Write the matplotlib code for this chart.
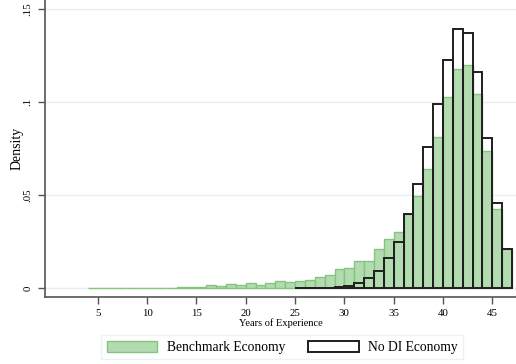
import matplotlib.pyplot as plt
import numpy as np

plt.rcParams['font.family'] = ['Liberation Serif', 'DejaVu Serif']

# histogram bins: one year wide, left edges
bench_left = np.arange(4, 47)
bench_dens = [0.0003, 0.0003, 0.0003, 0.0003, 0.0003, 0.0003, 0.0003, 0.0003, 0.0003,
              0.0005, 0.0006, 0.0006,
              0.0016, 0.0013, 0.0021, 0.0014, 0.0025, 0.0018, 0.0025, 0.0036, 0.0034,
              0.0039, 0.0043, 0.0061, 0.0070, 0.0104, 0.0110, 0.0145, 0.0145, 0.0208,
              0.0263, 0.0300, 0.0398, 0.0495, 0.0638, 0.0810, 0.1029, 0.1176, 0.1197,
              0.1041, 0.0737, 0.0425, 0.0210]

nodi_left = np.arange(25, 47)
nodi_dens = [0.0002, 0.0002, 0.0002, 0.0002, 0.0004, 0.0012, 0.0025, 0.0055, 0.0091,
             0.0160, 0.0246, 0.0396, 0.0559, 0.0758, 0.0988, 0.1226, 0.1390, 0.1373,
             0.1163, 0.0805, 0.0455, 0.0210]

fig = plt.figure(figsize=(5.16, 3.64), dpi=100)
ax = fig.add_axes([45/516, 1 - 297/364, 1 - 45/516, 297/364])

ax.bar(bench_left, bench_dens, width=1, align='edge', color='#b3dbb0',
       edgecolor='#84c47f', linewidth=1.0, label='Benchmark Economy', zorder=2)
ax.bar(nodi_left, nodi_dens, width=1, align='edge', fill=False,
       edgecolor='#1e1e1e', linewidth=1.4, label='No DI Economy', zorder=3)

ax.set_xlim(-0.35, 47.4)
ax.set_ylim(-0.0048, 0.1548)
ax.set_xticks([5, 10, 15, 20, 25, 30, 35, 40, 45])
ax.set_yticks([0, 0.05, 0.1, 0.15])
ax.set_yticklabels(['0', '.05', '.1', '.15'], rotation=90, va='center')
ax.tick_params(labelsize=7.8, length=5, color='#555555', width=1)
ax.tick_params(axis='y', pad=4)
ax.yaxis.grid(True, color='#e6eff1', linewidth=1, zorder=0)
ax.set_axisbelow(True)

for s in ['top', 'right']:
    ax.spines[s].set_visible(False)
for s in ['left', 'bottom']:
    ax.spines[s].set_color('#555555')
    ax.spines[s].set_linewidth(1.2)

ax.set_ylabel('Density', fontsize=10, labelpad=0)
ax.set_xlabel('Years of Experience', fontsize=7.5, labelpad=0)

fig.legend(loc='lower center', bbox_to_anchor=(0.547, -0.006), ncol=2, fontsize=9.8,
           frameon=True, fancybox=False, edgecolor='#e6eff1', handlelength=3.7,
           handleheight=0.9, handletextpad=0.7, columnspacing=1.7, borderpad=0.4)

fig.savefig('out.png', dpi=100)
